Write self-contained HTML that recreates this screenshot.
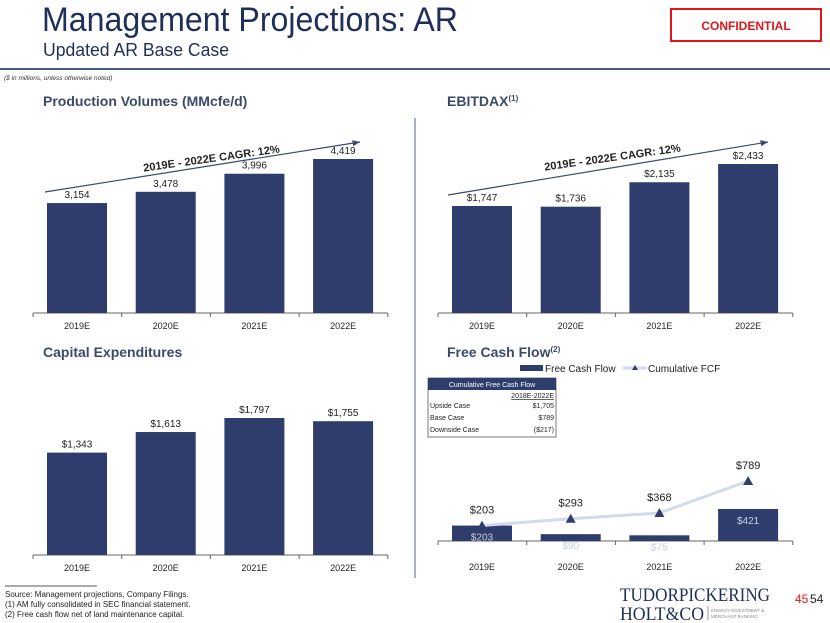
<!DOCTYPE html>
<html><head><meta charset="utf-8"><style>
body{margin:0;background:#fff;}
svg{display:block;font-family:"Liberation Sans",sans-serif;}
</style></head><body>
<svg id="s" width="830" height="623" viewBox="0 0 830 623" xmlns="http://www.w3.org/2000/svg">
<text x="42" y="31" font-size="34" fill="#1f2f5a" textLength="416" lengthAdjust="spacingAndGlyphs">Management Projections: AR</text>
<text x="43" y="56" font-size="18" fill="#1f2f5a" textLength="186" lengthAdjust="spacingAndGlyphs">Updated AR Base Case</text>
<rect x="671" y="9" width="150" height="32" fill="none" stroke="#e0161b" stroke-width="2"/>
<text x="746" y="30" font-size="12" font-weight="bold" fill="#e0161b" text-anchor="middle">CONFIDENTIAL</text>
<line x1="0" y1="69" x2="830" y2="69" stroke="#4a5a80" stroke-width="2"/>
<text x="4" y="80" font-size="6.5" font-style="italic" fill="#333">($ in millions, unless otherwise noted)</text>
<line x1="415" y1="118" x2="415" y2="578" stroke="#8a94b0" stroke-width="1.5"/>
<text x="43" y="106" font-size="14" font-weight="bold" fill="#3b4a6b">Production Volumes (MMcfe/d)</text>
<text x="447" y="106" font-size="14" font-weight="bold" fill="#3b4a6b">EBITDAX<tspan font-size="8" dy="-5">(1)</tspan></text>
<text x="43" y="357" font-size="14" font-weight="bold" fill="#3b4a6b">Capital Expenditures</text>
<text x="447" y="357" font-size="14" font-weight="bold" fill="#3b4a6b">Free Cash Flow<tspan font-size="8" dy="-5">(2)</tspan></text>
<g id="charts"></g>
<rect x="520" y="365" width="23" height="6" fill="#2e3d6b"/>
<text x="545" y="372" font-size="10" fill="#222">Free Cash Flow</text>
<line x1="623" y1="368" x2="647" y2="368" stroke="#d3daec" stroke-width="3"/>
<path d="M632,370 L635,365 L638,370Z" fill="#2e3d6b"/>
<text x="648" y="372" font-size="10" fill="#222">Cumulative FCF</text>
<g font-size="7" fill="#222">
<rect x="428" y="378" width="128" height="59" fill="#fff" stroke="#777"/>
<rect x="428" y="378" width="128" height="12" fill="#2e3d6b"/>
<text x="492" y="387" fill="#fff" text-anchor="middle">Cumulative Free Cash Flow</text>
<text x="554" y="398" text-anchor="end" text-decoration="underline">2018E-2022E</text>
<text x="430" y="408">Upside Case</text><text x="554" y="408" text-anchor="end">$1,705</text>
<text x="430" y="420">Base Case</text><text x="554" y="420" text-anchor="end">$789</text>
<text x="430" y="432">Downside Case</text><text x="554" y="432" text-anchor="end">($217)</text>
</g>
<line x1="5" y1="586" x2="97" y2="586" stroke="#555" stroke-width="1"/>
<g font-size="8" fill="#222">
<text x="5" y="597">Source: Management projections, Company Filings.</text>
<text x="5" y="607">(1)    AM fully consolidated in SEC financial statement.</text>
<text x="5" y="617">(2)    Free cash flow net of land maintenance capital.</text>
</g>
<g font-family="Liberation Serif,serif" fill="#1f2f5a">
<text x="620" y="601" font-size="19" textLength="150" lengthAdjust="spacingAndGlyphs">TUDORPICKERING</text>
<text x="620" y="620" font-size="19" textLength="84" lengthAdjust="spacingAndGlyphs">HOLT&amp;CO</text>
<line x1="708" y1="606" x2="708" y2="620" stroke="#999"/>
<text x="711" y="612" font-size="4.5" fill="#888" font-family="Liberation Sans,sans-serif">ENERGY INVESTMENT &amp;</text>
<text x="711" y="618" font-size="4.5" fill="#888" font-family="Liberation Sans,sans-serif">MERCHANT BANKING</text>
</g>
<text x="795" y="603" font-size="12" fill="#e0161b">45</text>
<text x="810" y="603" font-size="12" fill="#222">54</text>
</svg>
<script>
const categories = ["2019E","2020E","2021E","2022E"];
const productionValues = [3154,3478,3996,4419];
const productionLabels = ["3,154","3,478","3,996","4,419"];
const ebitdaxValues = [1747,1736,2135,2433];
const ebitdaxLabels = ["$1,747","$1,736","$2,135","$2,433"];
const capexValues = [1343,1613,1797,1755];
const capexLabels = ["$1,343","$1,613","$1,797","$1,755"];
const fcfValues = [203,90,75,421];
const fcfLabels = ["$203","$90","$75","$421"];
const cumFcfValues = [203,293,368,789];
const cumFcfLabels = ["$203","$293","$368","$789"];

const NS="http://www.w3.org/2000/svg";
const g=document.getElementById('charts');
function mk(tag,attrs){const e=document.createElementNS(NS,tag);for(const k in attrs)e.setAttribute(k,attrs[k]);g.appendChild(e);return e;}
function barChart(prefix,x0,base,maxV,maxH,vals,labels,labelInside,catOff){
  const step=88.7, bw=60;
  const xs=i=>x0+i*step;
  const yScale=v=>base - v/maxV*maxH;
  const ax=mk('line',{x1:x0-14,y1:base,x2:x0-14+step*4,y2:base,stroke:'#666','stroke-width':1});
  
  
  for(let i=0;i<=4;i++){const t=mk('line',{x1:x0-14+i*step,y1:base,x2:x0-14+i*step,y2:base+4,stroke:'#666'});
    
    }
  vals.forEach((v,i)=>{
    const y=yScale(v);
    const r=mk('rect',{x:xs(i),y:y,width:bw,height:base-y,fill:'#2e3d6b'});
    
    
    const t=mk('text',{x:xs(i)+bw/2,y:labelInside?y+15:y-5,'font-size':10,'text-anchor':'middle',fill:labelInside?'#c8cfe2':'#222'});
    t.textContent=labels[i];
    
    
    const c=mk('text',{x:xs(i)+bw/2,y:base+catOff,'font-size':9,'text-anchor':'middle',fill:'#222'});
    c.textContent=categories[i];
    
    
  });
  return {xs,yScale,bw};
}
barChart('production',47,313,4419,154,productionValues,productionLabels,false,16);
barChart('ebitdax',452,313,2433,149,ebitdaxValues,ebitdaxLabels,false,16);
barChart('capex',47,555,1797,137,capexValues,capexLabels,false,16);
const f=barChart('fcf',452,541,789,60,fcfValues,fcfLabels,true,29);
const pts=cumFcfValues.map((v,i)=>[f.xs(i)+f.bw/2,f.yScale(v)]);
const pl=mk('polyline',{points:pts.map(p=>p.join(',')).join(' '),fill:'none',stroke:'#d3daec','stroke-width':3});


pts.forEach((p,i)=>{
  const m=mk('path',{d:`M${p[0]-5},${p[1]+4} L${p[0]},${p[1]-5} L${p[0]+5},${p[1]+4}Z`,fill:'#2e3d6b'});
  
  
  const t=mk('text',{x:p[0],y:p[1]-12,'font-size':11,'text-anchor':'middle',fill:'#222'});
  t.textContent=cumFcfLabels[i];
  
  
});
function cagr(prefix,x1,y1,x2,y2,tx,ty,ang){
  const l=mk('line',{x1,y1,x2,y2,stroke:'#3b4a6b','stroke-width':1.2});
  
  
  const a=Math.atan2(y2-y1,x2-x1);
  const h=mk('path',{d:`M${x2},${y2} L${x2-8*Math.cos(a-0.4)},${y2-8*Math.sin(a-0.4)} L${x2-8*Math.cos(a+0.4)},${y2-8*Math.sin(a+0.4)}Z`,fill:'#3b4a6b'});
  
  
  const t=mk('text',{x:tx,y:ty,'font-size':11,'font-weight':'bold',fill:'#222','text-anchor':'middle',transform:`rotate(${ang} ${tx} ${ty})`});
  t.textContent='2019E - 2022E CAGR: 12%';
  
  
}
cagr('production',45,192,360,142,212,162,-8);
cagr('ebitdax',448,195,768,142,613,161,-8);
</script>
</body></html>
